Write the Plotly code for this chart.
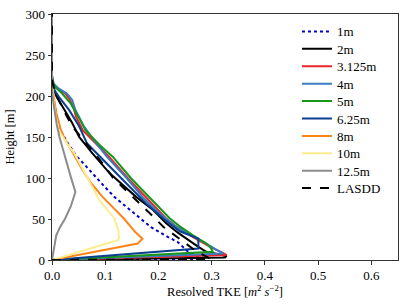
import plotly.graph_objects as go

# Heights [m] and resolved TKE [m^2 s^-2] for each resolution
h_1m = [0, 1.5, 5, 10, 22, 28, 40, 51, 64, 77, 90, 102, 115, 126, 142, 158, 172, 185, 198, 210, 300]
tke_1m = [0, 0.29, 0.27, 0.256, 0.236, 0.218, 0.186, 0.165, 0.14, 0.117, 0.098, 0.082, 0.063, 0.047, 0.03, 0.016, 0.01, 0.006, 0.002, 0.0, 0.0]

h_2m = [0, 3, 5, 10, 16, 25, 33, 45, 61, 77, 90, 106, 130, 150, 167, 180, 189, 200, 210, 220, 300]
tke_2m = [0, 0.325, 0.328, 0.29, 0.275, 0.255, 0.237, 0.214, 0.19, 0.158, 0.135, 0.108, 0.076, 0.051, 0.038, 0.027, 0.018, 0.008, 0.003, 0.0, 0.0]

h_3125 = [0, 6, 9, 15, 25, 40, 51, 81, 100, 126, 158, 175, 187, 197, 203, 208, 212, 225, 300]
tke_3125 = [0, 0.328, 0.32, 0.3, 0.272, 0.235, 0.214, 0.17, 0.142, 0.107, 0.058, 0.045, 0.04, 0.032, 0.025, 0.012, 0.003, 0.0, 0.0]

h_4m = [0, 8, 12, 20, 30, 41, 55, 77, 100, 126, 145, 163, 183, 195, 203, 209, 215, 225, 300]
tke_4m = [0, 0.322, 0.31, 0.29, 0.262, 0.232, 0.205, 0.17, 0.14, 0.103, 0.08, 0.06, 0.044, 0.038, 0.028, 0.013, 0.003, 0.0, 0.0]

h_5m = [0, 10, 15, 20, 30, 41, 51, 65, 81, 100, 126, 140, 158, 173, 191, 203, 211, 218, 225, 300]
tke_5m = [0, 0.302, 0.298, 0.29, 0.265, 0.24, 0.221, 0.2, 0.177, 0.148, 0.114, 0.09, 0.063, 0.051, 0.035, 0.019, 0.006, 0.001, 0.0, 0.0]

h_625 = [0, 14, 26, 35, 50, 69, 90, 110, 126, 142, 163, 183, 199, 208, 220, 300]
tke_625 = [0, 0.275, 0.275, 0.24, 0.21, 0.177, 0.145, 0.114, 0.09, 0.066, 0.051, 0.032, 0.013, 0.004, 0.0, 0.0]

h_8m = [0, 20, 26, 35, 50, 65, 77, 95, 110, 130, 146, 160, 180, 200, 220, 300]
tke_8m = [0, 0.161, 0.17, 0.155, 0.136, 0.113, 0.095, 0.072, 0.057, 0.04, 0.025, 0.016, 0.008, 0.003, 0.0, 0.0]

h_10m = [0, 24, 26, 35, 51, 60, 73, 90, 100, 115, 130, 142, 158, 175, 190, 200, 220, 300]
tke_10m = [0, 0.123, 0.126, 0.125, 0.117, 0.105, 0.089, 0.075, 0.067, 0.055, 0.042, 0.028, 0.013, 0.007, 0.004, 0.002, 0.0, 0.0]

h_125 = [0, 10, 20, 30, 40, 51, 65, 83, 102, 130, 150, 165, 180, 195, 210, 300]
tke_125 = [0, 0.003, 0.005, 0.008, 0.015, 0.025, 0.035, 0.044, 0.035, 0.022, 0.014, 0.009, 0.005, 0.002, 0.0, 0.0]

h_lasdd = [0, 1, 4, 12, 28, 40, 53, 65, 81, 100, 118, 138, 150, 163, 175, 187, 197, 205, 220, 300]
tke_lasdd = [0, 0.3, 0.29, 0.268, 0.235, 0.21, 0.19, 0.171, 0.146, 0.115, 0.095, 0.07, 0.055, 0.038, 0.028, 0.019, 0.012, 0.005, 0.0, 0.0]

series = [
    ("1m", tke_1m, h_1m, "#0000cc", "dot"),
    ("2m", tke_2m, h_2m, "#000000", "solid"),
    ("3.125m", tke_3125, h_3125, "#e8262a", "solid"),
    ("4m", tke_4m, h_4m, "#3a7dc0", "solid"),
    ("5m", tke_5m, h_5m, "#17961a", "solid"),
    ("6.25m", tke_625, h_625, "#0b3f8f", "solid"),
    ("8m", tke_8m, h_8m, "#ff8418", "solid"),
    ("10m", tke_10m, h_10m, "#fbee92", "solid"),
    ("12.5m", tke_125, h_125, "#8c8c8c", "solid"),
    ("LASDD", tke_lasdd, h_lasdd, "#000000", "dash"),
]

x_ticks = [0.0, 0.1, 0.2, 0.3, 0.4, 0.5, 0.6]
y_ticks = [0, 50, 100, 150, 200, 250, 300]

fig = go.Figure()
for name, x, y, col, dash in series:
    fig.add_trace(go.Scatter(x=x, y=y, mode="lines", name=name,
                             line=dict(color=col, width=2, dash=dash)))

font = "Liberation Serif, DejaVu Serif, serif"
fig.update_layout(
    width=407, height=305,
    margin=dict(l=52, r=9, t=14, b=45),
    plot_bgcolor="white", paper_bgcolor="white",
    font=dict(family=font, size=13, color="black"),
    showlegend=True,
    legend=dict(x=0.708, y=0.99, xanchor="left", yanchor="top",
                bgcolor="rgba(0,0,0,0)", borderwidth=0,
                font=dict(family=font, size=13), tracegroupgap=0),
    xaxis=dict(range=[0, 0.65], tickvals=x_ticks, automargin=False,
               ticktext=[f"{v:.1f}" for v in x_ticks],
               showgrid=False, zeroline=False, showline=True, linecolor="#333",
               linewidth=1, mirror=True, ticks="outside", ticklen=3.5,
               tickcolor="#333", tickfont=dict(size=13),
               title=dict(text="Resolved TKE [<i>m</i><sup>2</sup> <i>s</i><sup>−2</sup>]",
                          font=dict(size=12.5), standoff=2)),
    yaxis=dict(range=[0, 300], tickvals=y_ticks, automargin=False,
               showgrid=False, zeroline=False, showline=True, linecolor="#333",
               linewidth=1, mirror=True, ticks="outside", ticklen=3.5,
               tickcolor="#333", tickfont=dict(size=13),
               title=dict(text="Height [m]", font=dict(size=12.5), standoff=8)),
)

post = """
document.body.style.margin='0';document.body.style.overflow='hidden';
var items=document.querySelectorAll('.legend .traces');
var ys=[];
items.forEach(function(t){
  var m=/translate\\(([^,]+),\\s*([^)]+)\\)/.exec(t.getAttribute('transform')||'');
  ys.push(m?[parseFloat(m[1]),parseFloat(m[2])]:[0,0]);
});
if(ys.length){
  var y0=ys[0][1];
  items.forEach(function(t,i){
    t.setAttribute('transform','translate('+ys[i][0]+','+(y0+(ys[i][1]-y0)*0.875)+')');
  });
}
"""

fig.write_html("out.html", config={"displayModeBar": False}, post_script=post)
